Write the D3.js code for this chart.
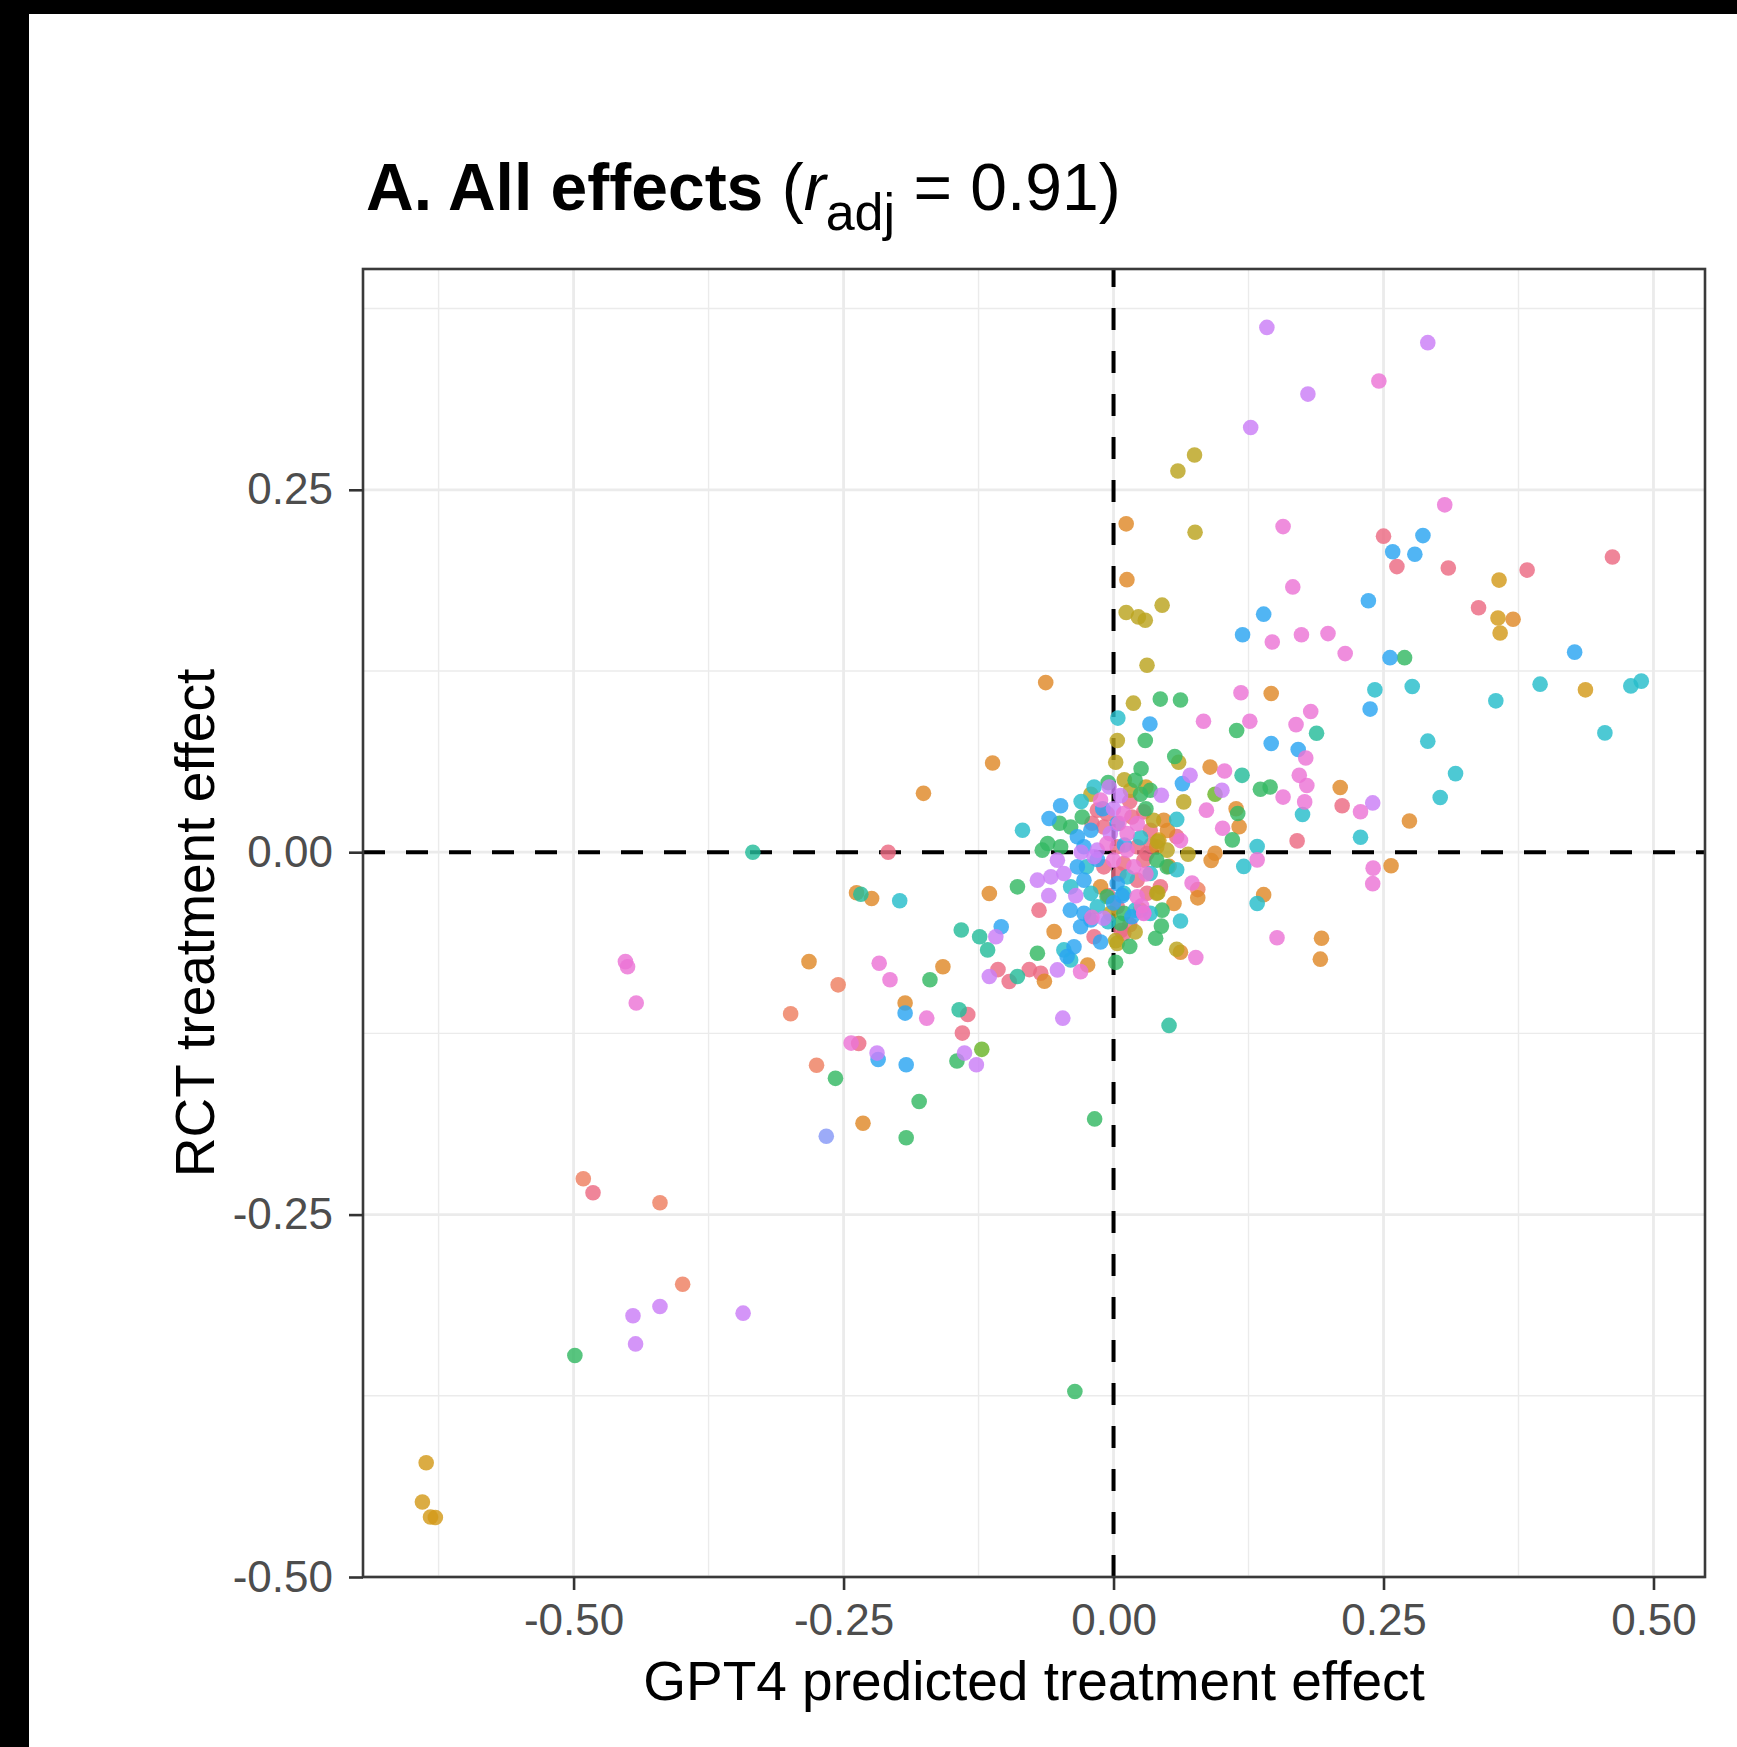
<!DOCTYPE html>
<html>
<head>
<meta charset="utf-8">
<script src="https://cdn.jsdelivr.net/npm/d3@7/dist/d3.min.js"></script>
<style>
html,body{margin:0;padding:0;background:#000;}
svg{display:block;}
</style>
</head>
<body>
<script>
// ---------- data (x = GPT4 predicted effect, y = RCT effect) ----------
const redPts = [[0.25,0.218],[0.2624,0.197],[0.310,0.196],[0.462,0.2036],[0.383,0.1946],[0.338,0.1686],
 [0.2117,0.032],[0.170,0.0078],[0.0585,0.0107],[0.007,-0.054],
 [-0.015,0.029],[-0.006,0.0266],[0.017,0.0243],[0.028,0.0278],[-0.009,0.0174],[0.034,0.0151],[0.0034,0.0037],
 [0.0219,0.0037],[0.031,-0.0009],[-0.009,-0.0101],[0.0095,-0.0078],[0.028,-0.0055],[0.0219,-0.0193],
 [0.0434,-0.0239],[0.031,-0.0284],[-0.069,-0.040],[0.0034,-0.0376],[-0.018,-0.0583],[0.0095,-0.056],
 [-0.107,-0.081],[-0.0966,-0.0892],[-0.078,-0.081],[-0.0674,-0.0835],[-0.135,-0.112],[-0.14,-0.1248],
 [-0.2087,0.0],[-0.236,-0.132],[-0.482,-0.2349],
 [-0.020,0.020],[0.015,0.035],[0.005,-0.015],[-0.005,-0.030],[0.035,0.005],[0.015,-0.050]];
const salmonPts = [[-0.255,-0.0915],[-0.299,-0.1115],[-0.275,-0.147],[-0.491,-0.2253],[-0.420,-0.2418],
 [-0.399,-0.298],[0.078,-0.0258]];
const orangePts = [[0.0117,0.2265],[0.0124,0.188],[0.370,0.1607],[0.274,0.0215],[0.2099,0.0446],[0.257,-0.0094],
 [0.1926,-0.0594],[0.1915,-0.0738],[0.139,-0.0293],[0.146,0.1095],[0.0894,0.0587],[0.1135,0.030],[0.1163,0.0176],
 [0.094,-0.0007],[0.0904,-0.0057],[0.0514,-0.0098],[0.078,-0.0315],[0.056,-0.0354],[0.062,-0.069],
 [0.0465,0.022],[0.040,0.0037],[-0.012,-0.0239],[-0.055,-0.0548],[-0.024,-0.0778],[-0.064,-0.089],
 [-0.0628,0.117],[-0.112,0.0615],[-0.115,-0.0285],[-0.176,0.0406],[-0.238,-0.028],[-0.224,-0.032],
 [-0.282,-0.0755],[-0.158,-0.079],[-0.193,-0.104],[-0.232,-0.187],[0.025,-0.040],[0.050,0.015]];
const goldPts = [[0.357,0.1877],[0.356,0.1616],[0.358,0.1512],[0.437,0.112],[0.042,0.0083],[0.030,0.045],
 [-0.6365,-0.4212],[-0.640,-0.4483],[-0.6325,-0.4586],[-0.628,-0.459]];
const olivePts = [[0.075,0.274],[0.0596,0.263],[0.0755,0.2207],[0.045,0.1704],[0.0117,0.1653],[0.023,0.1623],
 [0.0294,0.16],[0.031,0.129],[0.0184,0.1028],[0.0035,0.077],[0.002,0.062],[0.0603,0.062],[0.065,0.0347],
 [0.0408,0.0073],[0.069,-0.0014],[0.0585,-0.067],[0.002,-0.061],[0.041,-0.028],
 [-0.021,0.040],[0.0157,0.0427],[0.037,0.022],[0.0496,0.0014],[0.040,-0.0284],[-0.003,-0.0422],[0.0034,-0.0629],
 [0.010,0.050],[0.020,-0.055]];
const limePts = [[-0.122,-0.136],[0.094,0.04]];
const greenPts = [[0.2695,0.1342],[0.136,0.0434],[0.145,0.045],[0.114,0.0839],[0.0433,0.1056],[0.062,0.105],
 [0.0294,0.077],[0.0567,0.066],[0.0255,0.0576],[0.115,0.0267],[0.110,0.0085],[0.0443,-0.051],[0.039,-0.0594],
 [0.002,-0.076],[0.025,0.040],[0.020,0.0496],[0.034,0.0427],[-0.029,0.0243],[-0.0397,0.0174],[-0.061,0.006],
 [-0.066,0.0014],[-0.049,0.0037],[0.040,-0.0055],[0.0496,-0.0101],[-0.089,-0.0239],[-0.006,-0.0307],
 [0.0095,-0.0422],[0.0065,-0.049],[-0.0705,-0.0697],[-0.170,-0.088],[-0.145,-0.144],[-0.2575,-0.156],
 [-0.18,-0.172],[-0.192,-0.197],[-0.4988,-0.3472],[-0.0358,-0.372],[-0.0175,-0.184],
 [-0.005,0.048],[0.030,0.030],[0.045,-0.040],[-0.050,0.020],[0.015,-0.065]];
const tealPts = [[0.188,0.082],[0.119,0.053],[0.0514,-0.1195],[-0.334,0.0],[-0.234,-0.029],[-0.141,-0.0537],
 [-0.124,-0.0583],[-0.1166,-0.0674],[-0.089,-0.0858],[-0.143,-0.1087]];
const cyanPts = [[0.242,0.112],[0.2766,0.1143],[0.395,0.1159],[0.479,0.1147],[0.4887,0.118],[0.354,0.1044],
 [0.455,0.0823],[0.291,0.0766],[0.3167,0.0542],[0.3025,0.0377],[0.2287,0.0103],[0.133,-0.0354],[0.175,0.026],
 [0.004,0.0925],[0.0585,0.0226],[0.133,0.0039],[0.1206,-0.0098],[0.0585,-0.0121],[0.062,-0.0475],
 [-0.018,0.045],[-0.0843,0.0151],[-0.0397,-0.0239],[0.0126,-0.017],[0.034,-0.0147],[-0.021,-0.0284],
 [0.0095,-0.0284],[-0.015,-0.0376],[0.034,-0.0422],[-0.046,-0.0674],[-0.0397,-0.0743],[-0.198,-0.0335],
 [-0.030,0.035],[0.020,-0.040],[-0.005,-0.048],[0.025,0.010],[-0.025,-0.010]];
const bluePts = [[0.2865,0.2184],[0.2585,0.2073],[0.279,0.2055],[0.236,0.1734],[0.139,0.1642],[0.1195,0.15],
 [0.256,0.1342],[0.427,0.138],[0.2376,0.0987],[0.146,0.075],[0.171,0.0708],[0.0337,0.0884],[0.0638,0.0473],
 [-0.049,0.032],[-0.0597,0.0232],[-0.0335,0.0106],[-0.021,0.0151],[0.0034,0.0197],[-0.0274,0.0037],
 [-0.0335,-0.0101],[-0.0274,-0.0193],[0.0034,-0.0216],[-0.0274,-0.0422],[0.017,-0.0445],[-0.0305,-0.0514],
 [-0.021,-0.0468],[-0.0366,-0.0652],[-0.043,-0.072],[-0.104,-0.0514],[-0.193,-0.111],[-0.218,-0.143],
 [-0.192,-0.1466],
 [-0.010,0.030],[0.008,-0.030],[-0.015,-0.005],[0.000,-0.035],[-0.040,-0.040],[-0.012,-0.062],[0.010,0.005]];
const periPts = [[-0.266,-0.196]];
const lavenderPts = [[0.142,0.362],[0.291,0.3515],[0.180,0.316],[0.127,0.293],[0.240,0.034],[0.0709,0.053],
 [0.0443,0.0393],[0.1004,0.0427],[0.028,-0.042],[-0.004,0.045],[0.0065,0.039],[-0.003,0.0128],[-0.015,0.0014],
 [-0.052,-0.0055],[-0.018,-0.0032],[-0.0705,-0.0193],[-0.058,-0.017],[-0.046,-0.0147],[-0.009,-0.0456],
 [-0.052,-0.0812],[-0.109,-0.0583],[-0.115,-0.0858],[-0.047,-0.1145],[-0.138,-0.1386],[-0.127,-0.1466],
 [-0.219,-0.1386],[-0.420,-0.3134],[-0.445,-0.3198],[-0.343,-0.318],[-0.4426,-0.3392],
 [-0.030,0.000],[-0.035,-0.030],[0.000,0.030],[-0.060,-0.030]];
const pinkPts = [[0.2457,0.325],[0.3067,0.2396],[0.157,0.2246],[0.166,0.183],[0.147,0.145],[0.174,0.15],
 [0.1986,0.1508],[0.2145,0.137],[0.2287,0.0279],[0.2404,-0.011],[0.24,-0.0217],[0.1514,-0.059],[0.118,0.110],
 [0.1826,0.097],[0.169,0.088],[0.178,0.065],[0.172,0.053],[0.179,0.046],[0.177,0.0347],[0.157,0.038],
 [0.1262,0.0903],[0.0833,0.0903],[0.1028,0.056],[0.086,0.029],[0.101,0.0165],[0.062,0.008],[0.133,-0.0053],
 [0.0727,-0.0213],[0.0762,-0.0727],[0.026,-0.037],[0.0095,0.0266],[0.0126,0.0128],[0.0219,0.0197],
 [-0.006,0.006],[0.0126,0.0014],[0.0,-0.0055],[0.0188,-0.0101],[0.0219,-0.0307],[0.028,-0.0422],
 [-0.0305,-0.0824],[-0.452,-0.0755],[-0.450,-0.079],[-0.442,-0.104],[-0.217,-0.0766],[-0.207,-0.088],
 [-0.173,-0.1145],[-0.243,-0.1317],
 [-0.012,0.036],[0.030,-0.015],[0.005,0.020],[-0.020,-0.045]];

const groupNames = ["red","salmon","orange","gold","olive","lime","green","teal","cyan","blue","peri","lavender","pink"];
const groupPoints = {red:redPts,salmon:salmonPts,orange:orangePts,gold:goldPts,olive:olivePts,lime:limePts,
  green:greenPts,teal:tealPts,cyan:cyanPts,blue:bluePts,peri:periPts,lavender:lavenderPts,pink:pinkPts};

const xTicks = [-0.50,-0.25,0.00,0.25,0.50];
const yTicks = [-0.50,-0.25,0.00,0.25];
const xMinor = [-0.625,-0.375,-0.125,0.125,0.375];
const yMinor = [-0.375,-0.125,0.125,0.375];
const xLabel = "GPT4 predicted treatment effect";
const yLabel = "RCT treatment effect";

// ---------- styles ----------
const palette = {red:"#EC6A82",salmon:"#EE7F60",orange:"#DF8928",gold:"#D39A1A",olive:"#BBA31E",
  lime:"#6AB52A",green:"#33B863",teal:"#24BC9A",cyan:"#26BDCB",blue:"#2BA5F2",peri:"#8698F7",
  lavender:"#CB7EF7",pink:"#EC74D6"};

const W = 1737, H = 1747;
const P = {left:363, right:1705, top:269, bottom:1577};
const svg = d3.select("body").append("svg").attr("width",W).attr("height",H);
svg.append("rect").attr("width",W).attr("height",H).attr("fill","#000");
svg.append("rect").attr("x",29).attr("y",14).attr("width",W-29).attr("height",H-14).attr("fill","#fff");

const x = d3.scaleLinear().domain([-0.695,0.5477]).range([P.left,P.right]);
const y = d3.scaleLinear().domain([-0.5,0.4023]).range([P.bottom,P.top]);

const font = "'Liberation Sans', Arial, Helvetica, sans-serif";
const grid = svg.append("g");
grid.selectAll(".vmin").data(xMinor).join("line").attr("x1",d=>x(d)).attr("x2",d=>x(d))
  .attr("y1",P.top).attr("y2",P.bottom).attr("stroke","#EBEBEB").attr("stroke-width",1.4);
grid.selectAll(".hmin").data(yMinor).join("line").attr("y1",d=>y(d)).attr("y2",d=>y(d))
  .attr("x1",P.left).attr("x2",P.right).attr("stroke","#EBEBEB").attr("stroke-width",1.4);
grid.selectAll(".vmaj").data(xTicks).join("line").attr("x1",d=>x(d)).attr("x2",d=>x(d))
  .attr("y1",P.top).attr("y2",P.bottom).attr("stroke","#EBEBEB").attr("stroke-width",2.8);
grid.selectAll(".hmaj").data(yTicks).join("line").attr("y1",d=>y(d)).attr("y2",d=>y(d))
  .attr("x1",P.left).attr("x2",P.right).attr("stroke","#EBEBEB").attr("stroke-width",2.8);

// reference lines
svg.append("line").attr("x1",P.left).attr("x2",P.right).attr("y1",y(0)).attr("y2",y(0))
  .attr("stroke","#000").attr("stroke-width",4).attr("stroke-dasharray","22,21");
svg.append("line").attr("x1",x(0)).attr("x2",x(0)).attr("y1",P.bottom).attr("y2",P.top)
  .attr("stroke","#000").attr("stroke-width",4).attr("stroke-dasharray","22,21");

const pts = svg.append("g");
groupNames.forEach(g=>{
  pts.selectAll(".p-"+g).data(groupPoints[g]).join("circle")
    .attr("cx",d=>x(d[0])).attr("cy",d=>y(d[1])).attr("r",7.8)
    .attr("fill",palette[g]).attr("fill-opacity",0.82);
});

svg.append("rect").attr("x",P.left).attr("y",P.top).attr("width",P.right-P.left).attr("height",P.bottom-P.top)
  .attr("fill","none").attr("stroke","#3a3a3a").attr("stroke-width",2.6);

const fmt = d => d.toFixed(2);
const xa = svg.append("g").attr("transform",`translate(0,${P.bottom})`)
  .call(d3.axisBottom(x).tickValues(xTicks).tickFormat(fmt).tickSize(13).tickPadding(14));
const ya = svg.append("g").attr("transform",`translate(${P.left},0)`)
  .call(d3.axisLeft(y).tickValues(yTicks).tickFormat(fmt).tickSize(14).tickPadding(16));
[xa,ya].forEach(a=>{
  a.select(".domain").remove();
  a.selectAll(".tick line").attr("stroke","#333").attr("stroke-width",2.6);
  a.selectAll(".tick text").attr("fill","#4D4D4D").style("font-family",font).style("font-size","44px");
});

svg.append("text").attr("x",(P.left+P.right)/2).attr("y",1700).attr("text-anchor","middle")
  .style("font-family",font).style("font-size","55px").attr("fill","#000").text(xLabel);
svg.append("text").attr("transform",`translate(214,${(P.top+P.bottom)/2}) rotate(-90)`).attr("text-anchor","middle")
  .style("font-family",font).style("font-size","55px").attr("fill","#000").text(yLabel);

const t = svg.append("text").attr("x",366).attr("y",210).style("font-family",font).style("font-size","66px").attr("fill","#000");
t.append("tspan").attr("font-weight","bold").text("A. All effects");
t.append("tspan").text(" (");
t.append("tspan").attr("font-style","italic").text("r");
t.append("tspan").attr("dy",20).style("font-size","52px").text("adj");
t.append("tspan").attr("dy",-20).text(" = 0.91)");
</script>
</body>
</html>
